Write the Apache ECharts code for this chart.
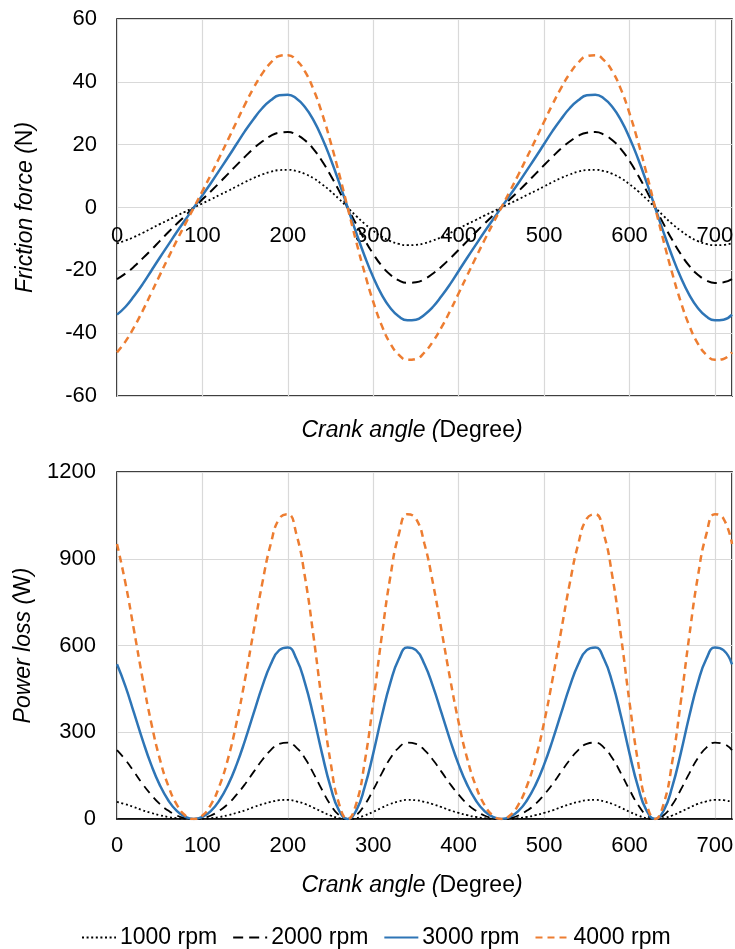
<!DOCTYPE html>
<html>
<head>
<meta charset="utf-8">
<script src="https://cdn.jsdelivr.net/npm/echarts@6/dist/echarts.min.js"></script>
<style>html,body{margin:0;padding:0;background:#fff;}#c{width:735px;height:949px;}</style>
</head>
<body>
<div id="c"></div>
<script>
var angles = [0,10,20,30,40,50,60,70,80,90,100,110,120,130,140,150,160,170,180,190,200,210,220,230,240,250,260,270,280,290,300,310,320,330,340,350,
360,370,380,390,400,410,420,430,440,450,460,470,480,490,500,510,520,530,540,550,560,570,580,590,600,610,620,630,640,650,660,670,680,690,700,710,720];

var seriesNames = ['1000 rpm','2000 rpm','3000 rpm','4000 rpm'];

var friction1000 = [-11.4,-10.5,-9.4,-8.1,-6.7,-5.3,-4.0,-2.6,-1.3,0,1.3,2.6,4.0,5.3,6.7,8.1,9.4,10.5,11.4,11.9,12.0,11.6,10.7,9.3,7.4,5.2,2.7,0,-2.7,-5.2,-7.4,-9.3,-10.7,-11.6,-12.0,-11.9,
-11.4,-10.5,-9.4,-8.1,-6.7,-5.3,-4.0,-2.6,-1.3,0,1.3,2.6,4.0,5.3,6.7,8.1,9.4,10.5,11.4,11.9,12.0,11.6,10.7,9.3,7.4,5.2,2.7,0,-2.7,-5.2,-7.4,-9.3,-10.7,-11.6,-12.0,-11.9,-11.4];
var friction2000 = [-22.8,-21.0,-18.8,-16.2,-13.5,-10.7,-7.9,-5.2,-2.6,0,2.6,5.2,7.9,10.7,13.5,16.2,18.8,21.0,22.8,23.8,24.0,23.2,21.4,18.6,14.8,10.3,5.3,0,-5.3,-10.3,-14.8,-18.6,-21.4,-23.2,-24.0,-23.8,
-22.8,-21.0,-18.8,-16.2,-13.5,-10.7,-7.9,-5.2,-2.6,0,2.6,5.2,7.9,10.7,13.5,16.2,18.8,21.0,22.8,23.8,24.0,23.2,21.4,18.6,14.8,10.3,5.3,0,-5.3,-10.3,-14.8,-18.6,-21.4,-23.2,-24.0,-23.8,-22.8];
var friction3000 = [-34.1,-31.6,-28.2,-24.4,-20.2,-16.0,-11.9,-7.8,-3.9,0,3.9,7.8,11.9,16.0,20.2,24.4,28.2,31.6,34.1,35.7,35.9,34.7,32.0,27.8,22.2,15.5,8.0,0,-8.0,-15.5,-22.2,-27.8,-32.0,-34.7,-35.9,-35.7,
-34.1,-31.6,-28.2,-24.4,-20.2,-16.0,-11.9,-7.8,-3.9,0,3.9,7.8,11.9,16.0,20.2,24.4,28.2,31.6,34.1,35.7,35.9,34.7,32.0,27.8,22.2,15.5,8.0,0,-8.0,-15.5,-22.2,-27.8,-32.0,-34.7,-35.9,-35.7,-34.1];
var friction4000 = [-46.1,-42.6,-38.1,-32.9,-27.3,-21.6,-16.0,-10.5,-5.2,0,5.2,10.5,16.0,21.6,27.3,32.9,38.1,42.6,46.1,48.2,48.5,46.9,43.3,37.6,30.0,20.9,10.8,0,-10.8,-20.9,-30.0,-37.6,-43.3,-46.9,-48.5,-48.2,
-46.1,-42.6,-38.1,-32.9,-27.3,-21.6,-16.0,-10.5,-5.2,0,5.2,10.5,16.0,21.6,27.3,32.9,38.1,42.6,46.1,48.2,48.5,46.9,43.3,37.6,30.0,20.9,10.8,0,-10.8,-20.9,-30.0,-37.6,-43.3,-46.9,-48.5,-48.2,-46.1];

var power1000 = [59,51,41,30,21,13,7,3,1,0,1,3,7,13,21,30,41,51,59,65,66,61,52,39,25,12,3,0,3,12,25,39,52,61,66,65,
59,51,41,30,21,13,7,3,1,0,1,3,7,13,21,30,41,51,59,65,66,61,52,39,25,12,3,0,3,12,25,39,52,61,66,65,59];
var power2000 = [238,204,163,121,84,52,29,12,3,0,3,12,29,52,84,121,163,204,238,260,264,247,210,158,101,49,13,0,13,49,101,158,210,247,264,260,
238,204,163,121,84,52,29,12,3,0,3,12,29,52,84,121,163,204,238,260,264,247,210,158,101,49,13,0,13,49,101,158,210,247,264,260,238];
var power3000 = [535,458,366,273,188,118,65,28,7,0,7,28,65,118,188,273,366,458,535,584,593,554,471,356,227,111,29,0,29,111,227,356,471,554,593,584,
535,458,366,273,188,118,65,28,7,0,7,28,65,118,188,273,366,458,535,584,593,554,471,356,227,111,29,0,29,111,227,356,471,554,593,584,535];
var power4000 = [951,814,651,485,334,209,115,50,12,0,12,50,115,209,334,485,651,814,951,1039,1054,985,838,633,404,197,52,0,52,197,404,633,838,985,1054,1039,
951,814,651,485,334,209,115,50,12,0,12,50,115,209,334,485,651,814,951,1039,1054,985,838,633,404,197,52,0,52,197,404,633,838,985,1054,1039,951];

var xTicks = [0,100,200,300,400,500,600,700];
var frictionTicks = [-60,-40,-20,0,20,40,60];
var powerTicks = [0,300,600,900,1200];

var FONT = "'Liberation Sans', Arial, sans-serif";
var styles = [
  {color:'#000000', width:1.8, type:[2,2.6]},
  {color:'#000000', width:2, type:[10,6]},
  {color:'#2E75B6', width:2.5, type:'solid'},
  {color:'#ED7D31', width:2.5, type:[7,5]}
];
var frictionData = [friction1000, friction2000, friction3000, friction4000];
var powerData = [power1000, power2000, power3000, power4000];

function pairs(arr){ return angles.map(function(a,i){ return [a, arr[i]]; }); }

var series = [];
for (var k=0;k<4;k++){
  series.push({name:seriesNames[k], type:'line', xAxisIndex:0, yAxisIndex:0, data:pairs(frictionData[k]),
    symbol:'none', smooth:0.5, lineStyle:{color:styles[k].color, width:styles[k].width, type:styles[k].type}, itemStyle:{color:styles[k].color}, z:3});
}
for (var k=0;k<4;k++){
  var t = styles[k].type;
  if (k===1) t = [9,6];
  series.push({name:seriesNames[k], type:'line', xAxisIndex:1, yAxisIndex:1, data:pairs(powerData[k]),
    symbol:'none', smooth:0.5, lineStyle:{color:styles[k].color, width:(k===1?1.8:styles[k].width), type:t}, itemStyle:{color:styles[k].color}, z:3});
}

var nameRich = {
  i:{fontFamily:FONT, fontSize:23, fontStyle:'italic', color:'#000'},
  n:{fontFamily:FONT, fontSize:23, fontStyle:'normal', color:'#000'}
};
var gridLine = {show:true, lineStyle:{color:'#d9d9d9', width:1.2}};
var labelStyle = {fontFamily:FONT, fontSize:22, color:'#000'};
function xFmt(v){ return xTicks.indexOf(v)>=0 ? String(v) : ''; }

var chart = echarts.init(document.getElementById('c'), null, {renderer:'canvas'});
chart.setOption({
  animation:false,
  backgroundColor:'#fff',
  grid:[
    {left:117, right:3, top:19, height:377, show:true, borderColor:'#000', borderWidth:1.6, backgroundColor:'transparent', outerBoundsMode:'none'},
    {left:117, right:3, top:472, height:347, show:true, borderColor:'#000', borderWidth:1.6, backgroundColor:'transparent', outerBoundsMode:'none'}
  ],
  legend:{
    data:seriesNames, left:76, top:921, itemWidth:34, itemHeight:14, itemGap:15,
    itemStyle:{opacity:0},
    textStyle:{fontFamily:FONT, fontSize:23, color:'#000', padding:[0,0,0,-1]}
  },
  xAxis:[
    {type:'value', gridIndex:0, min:0, max:720, interval:100,
     axisLine:{show:false, onZero:false},
     axisTick:{show:false}, splitLine:gridLine,
     axisLabel:Object.assign({margin:-171, showMaxLabel:false, formatter:xFmt}, labelStyle),
     name:'{i|Crank angle (}{n|Degree}{i|)}', nameLocation:'middle', nameGap:23,
     nameTextStyle:{rich:nameRich, padding:[0,25,0,0]}},
    {type:'value', gridIndex:1, min:0, max:720, interval:100,
     axisLine:{show:true, onZero:false, lineStyle:{color:'#000', width:1.6}},
     axisTick:{show:false}, splitLine:gridLine,
     axisLabel:Object.assign({margin:16, showMaxLabel:false, formatter:xFmt}, labelStyle),
     name:'{i|Crank angle (}{n|Degree}{i|)}', nameLocation:'middle', nameGap:55,
     nameTextStyle:{rich:nameRich, padding:[0,25,0,0]}}
  ],
  yAxis:[
    {type:'value', gridIndex:0, min:-60, max:60, interval:20,
     axisLine:{show:false, onZero:false}, axisTick:{show:false}, splitLine:gridLine,
     axisLabel:Object.assign({margin:20, formatter:function(v){return frictionTicks.indexOf(v)>=0?String(v):'';}}, labelStyle),
     name:'{i|Friction force (}{n|N}{i|)}', nameLocation:'middle', nameGap:80, nameRotate:90,
     nameTextStyle:{rich:nameRich}},
    {type:'value', gridIndex:1, min:0, max:1200, interval:300,
     axisLine:{show:false, onZero:false}, axisTick:{show:false}, splitLine:gridLine,
     axisLabel:Object.assign({margin:21, formatter:function(v){return powerTicks.indexOf(v)>=0?String(v):'';}}, labelStyle),
     name:'{i|Power loss (}{n|W}{i|)}', nameLocation:'middle', nameGap:82, nameRotate:90,
     nameTextStyle:{rich:nameRich}}
  ],
  series:series
});
</script>
</body>
</html>
